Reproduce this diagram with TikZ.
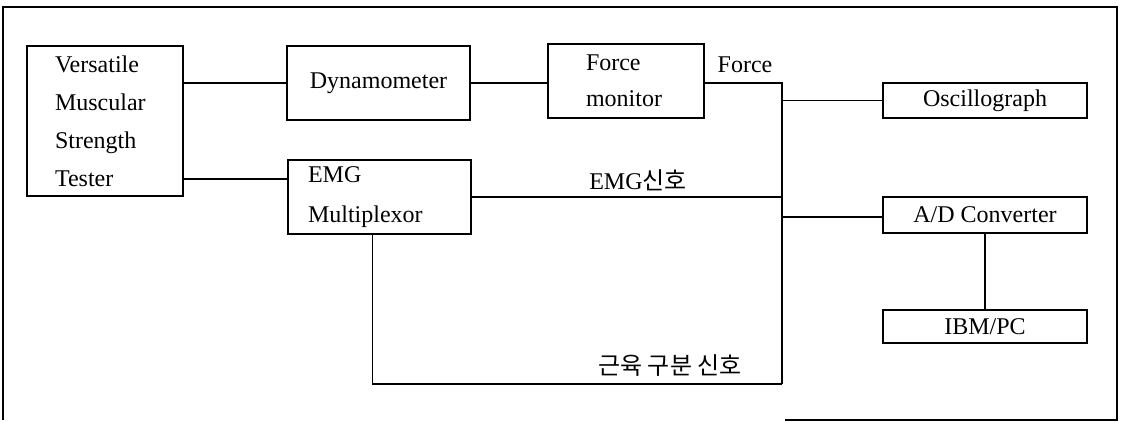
\documentclass[tikz,border=0pt]{standalone}
\usepackage{fontspec}
\setmainfont{Liberation Serif}
\newfontfamily\krfont{Noto Sans CJK KR}
\begin{document}
\begin{tikzpicture}[x=1pt,y=-1pt,
  blk/.style={draw, line width=1.6pt, inner sep=0pt, font=\fontsize{24}{38}\selectfont},
  wire/.style={line width=1.6pt},
  lbl/.style={inner sep=0pt, font=\fontsize{24}{38}\selectfont}]
\useasboundingbox (0,0) rectangle (1124,422);
% frame
\draw[line width=1.4pt] (785,420) -- (1117,420) -- (1117,7) -- (3,7) -- (3,420);
% blocks
\node[blk, minimum width=156pt, minimum height=150pt, text width=100pt, align=left] (vmst) at (105,121)
  {Versatile\\Muscular\\Strength\\Tester};
\node[blk, minimum width=183pt, minimum height=74pt] (dyn) at (378.5,83) {Dynamometer};
\node[blk, minimum width=183pt, minimum height=74pt, text width=143pt, align=left, font=\fontsize{24}{40}\selectfont] (emg) at (379.5,197)
  {EMG\\Multiplexor};
\node[blk, minimum width=156pt, minimum height=74pt, text width=80pt, align=left, font=\fontsize{24}{36}\selectfont] (fm) at (626,81)
  {Force\\monitor};
\node[blk, minimum width=204pt, minimum height=35pt] (osc) at (985,100.5) {Oscillograph};
\node[blk, minimum width=204pt, minimum height=36pt] (ad) at (985,215) {A/D Converter};
\node[blk, minimum width=204pt, minimum height=33pt] (pc) at (985,326.5) {IBM/PC};
% junction points
\coordinate (jbot) at (782,384);
\coordinate (tst) at ([yshift=-58pt]vmst.east);
\coordinate (mux) at ([xshift=-7pt]emg.south);
% connectors
\draw[wire] (dyn.west -| vmst.east) -- (dyn.west);
\draw[wire] (dyn.east) -- (dyn.east -| fm.west);
\draw[wire] (tst) -- (tst -| emg.west);
\draw[wire] ([yshift=-2pt]fm.east) -| (jbot);
\draw[wire] (mux) |- (jbot);
\draw[wire] (osc.west -| jbot) -- (osc.west);
\draw[wire] (emg.east) -- (emg.east -| jbot);
\draw[wire] ([yshift=-2pt]ad.west -| jbot) -- ([yshift=-2pt]ad.west);
\draw[wire] (ad.south) -- (pc.north);
% labels
\node[lbl] (lforce) at (745,65) {Force};
\node[lbl] (lemg) at (638,180) {EMG{\krfont 신호}};
\node[lbl] (lmus) at (670,366) {\krfont 근육 구분 신호};
\end{tikzpicture}
\end{document}
